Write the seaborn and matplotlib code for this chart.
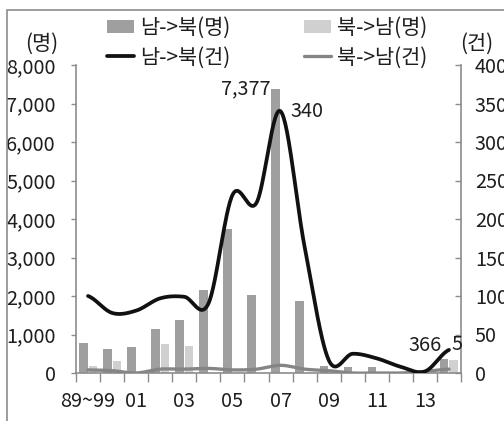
import numpy as np
import pandas as pd
import matplotlib
matplotlib.use("Agg")
import matplotlib.pyplot as plt
import seaborn as sns
from matplotlib.patches import Patch, Rectangle
from matplotlib.lines import Line2D
from matplotlib.ticker import FuncFormatter

# ---- data -------------------------------------------------------------
years = ['89~99', '00', '01', '02', '03', '04', '05', '06', '07', '08',
         '09', '10', '11', '12', '13', '14']
tick_labels = ['89~99', '', '01', '', '03', '', '05', '', '07', '',
               '09', '', '11', '', '13', '']
south_to_north_people = [790, 630, 670, 1150, 1375, 2155, 3730, 2020, 7377,
                         1860, 190, 148, 148, 30, 20, 366]
north_to_south_people = [190, 310, 0, 745, 710, 0, 0, 0, 0,
                         0, 0, 0, 0, 0, 0, 350]
south_to_north_cases = [100, 78, 81, 97, 99, 90, 231, 221, 340,
                        164, 17, 25, 19, 8, 2, 30]
north_to_south_cases = [4, 3, 0, 5, 5, 6, 4, 5, 10,
                        5, 3, 0, 0, 0, 2, 5]
people_series = ['남->북(명)', '북->남(명)']
case_series = ['남->북(건)', '북->남(건)']
left_unit = '(명)'
right_unit = '(건)'

# ---- style ------------------------------------------------------------
DARK_BAR = '#9f9f9f'
LIGHT_BAR = '#d0d0d0'
BLACK_LINE = '#111111'
GRAY_LINE = '#858585'
AXIS_GRAY = '#8c8c8c'
TEXT = '#1e1e1e'

sns.set_theme(style='white')
plt.rcParams['font.family'] = ['Noto Sans CJK KR', 'DejaVu Sans']
plt.rcParams['text.color'] = TEXT

TICK_SIZE = 14.3
LABEL_SIZE = 15


def smooth(values, steps=30):
    """Cardinal (Catmull-Rom) spline through the yearly points."""
    y = np.asarray(values, dtype=float)
    x = np.arange(len(y), dtype=float)
    m = np.empty_like(y)
    m[1:-1] = (y[2:] - y[:-2]) / 2.0
    m[0] = (y[1] - y[0]) / 2.0
    m[-1] = (y[-1] - y[-2]) / 2.0
    t = np.linspace(0, 1, steps, endpoint=False)
    h00 = 2 * t**3 - 3 * t**2 + 1
    h10 = t**3 - 2 * t**2 + t
    h01 = -2 * t**3 + 3 * t**2
    h11 = t**3 - t**2
    xs, ys = [], []
    for i in range(len(y) - 1):
        xs.append(x[i] + t)
        ys.append(h00 * y[i] + h10 * m[i] + h01 * y[i + 1] + h11 * m[i + 1])
    xs.append([x[-1]])
    ys.append([y[-1]])
    return np.concatenate(xs), np.concatenate(ys)


fig = plt.figure(figsize=(5.04, 4.21), dpi=100)
ax = fig.add_axes([76 / 504, 48 / 421, 385 / 504, 308 / 421])

# ---- bars: people (left axis) -----------------------------------------
bars = pd.DataFrame({
    'year': years * 2,
    'series': [s for s in people_series for _ in years],
    'value': south_to_north_people + north_to_south_people,
})
sns.barplot(data=bars, x='year', y='value', hue='series', order=years,
            hue_order=people_series, palette=[DARK_BAR, LIGHT_BAR],
            width=0.8, gap=0.1, saturation=1, linewidth=0,
            legend=False, ax=ax)

ax.set_xlim(-0.5, len(years) - 0.5)
ax.set_ylim(0, 8000)
ax.set_yticks(np.arange(0, 8001, 1000))
ax.yaxis.set_major_formatter(FuncFormatter(lambda v, p: f'{int(v):,}'))
ax.set_xticks(range(len(years)))
ax.set_xticklabels(tick_labels)
ax.set_xticks(np.arange(-0.5, len(years), 1.0), minor=True)
ax.set_xlabel('')
ax.set_ylabel('')

ax.tick_params(axis='y', left=True, direction='out', length=3.6, width=1,
               color=AXIS_GRAY, labelcolor=TEXT, pad=11, labelsize=TICK_SIZE)
ax.tick_params(axis='x', which='major', bottom=True, length=0, pad=13,
               labelsize=TICK_SIZE, labelcolor=TEXT)
ax.tick_params(axis='x', which='minor', bottom=True, direction='out',
               length=6.5, width=1, color=AXIS_GRAY)

for side in ['top', 'right']:
    ax.spines[side].set_visible(False)
for side in ['left', 'bottom']:
    ax.spines[side].set_color(AXIS_GRAY)
    ax.spines[side].set_linewidth(1.2)

# ---- lines: cases (right axis) ----------------------------------------
ax2 = ax.twinx()
gx, gy = smooth(north_to_south_cases)
bx, by = smooth(south_to_north_cases)
sns.lineplot(x=gx, y=gy, color=GRAY_LINE, linewidth=2.4, sort=False,
             estimator=None, ax=ax2)
sns.lineplot(x=bx, y=by, color=BLACK_LINE, linewidth=2.7, sort=False,
             estimator=None, ax=ax2)
ax2.set_ylim(0, 400)
ax2.set_yticks(np.arange(0, 401, 50))
ax2.tick_params(axis='y', right=True, direction='in', length=4, width=1,
                color=AXIS_GRAY, labelcolor=TEXT, pad=10, labelsize=TICK_SIZE)
for side in ['top', 'left', 'bottom']:
    ax2.spines[side].set_visible(False)
ax2.spines['right'].set_color(AXIS_GRAY)
ax2.spines['right'].set_linewidth(1.2)
ax2.set_xlim(-0.5, len(years) - 0.5)

# ---- value labels -----------------------------------------------------
peak_i = int(np.argmax(south_to_north_people))
ax.annotate(f'{south_to_north_people[peak_i]:,}',
            xy=(peak_i - 0.4, south_to_north_people[peak_i]),
            ha='right', va='center', fontsize=TICK_SIZE)
case_i = int(np.argmax(south_to_north_cases))
ax2.annotate(f'{south_to_north_cases[case_i]}',
             xy=(case_i + 0.4, south_to_north_cases[case_i]),
             ha='left', va='center', fontsize=TICK_SIZE)
last = len(years) - 1
ax.annotate(f'{south_to_north_people[last]}',
            xy=(last - 0.2, south_to_north_people[last]),
            xytext=(-2, 2), textcoords='offset points',
            ha='right', va='bottom', fontsize=TICK_SIZE)
ax2.annotate(f'{north_to_south_cases[last]}',
             xy=(last, north_to_south_cases[last]),
             xytext=(2, 10), textcoords='offset points',
             ha='left', va='bottom', fontsize=TICK_SIZE)

# ---- units ------------------------------------------------------------
fig.text(42 / 504, 1 - 44 / 421, left_unit, ha='center', va='center',
         fontsize=LABEL_SIZE)
fig.text(477 / 504, 1 - 44 / 421, right_unit, ha='center', va='center',
         fontsize=LABEL_SIZE)

# ---- legend -----------------------------------------------------------
handles = [
    Patch(facecolor=DARK_BAR, edgecolor='none'),
    Line2D([], [], color=BLACK_LINE, linewidth=2.7),
    Patch(facecolor=LIGHT_BAR, edgecolor='none'),
    Line2D([], [], color=GRAY_LINE, linewidth=2.4),
]
labels = [people_series[0], case_series[0], people_series[1], case_series[1]]
fig.legend(handles, labels, ncol=2, loc='upper left',
           bbox_to_anchor=(107 / 504, 1 - 17 / 421), frameon=False,
           fontsize=LABEL_SIZE, handlelength=1.3, handleheight=0.55,
           handletextpad=0.3, columnspacing=3.5, labelspacing=0.35,
           borderpad=0, borderaxespad=0)

# ---- outer frame --------------------------------------------------------
fig.add_artist(Rectangle((7 / 504, -0.2), 1.5, 1.2 - 10 / 421,
                         transform=fig.transFigure, fill=False,
                         edgecolor=AXIS_GRAY, linewidth=1.2))

fig.savefig('out.png', dpi=100)
